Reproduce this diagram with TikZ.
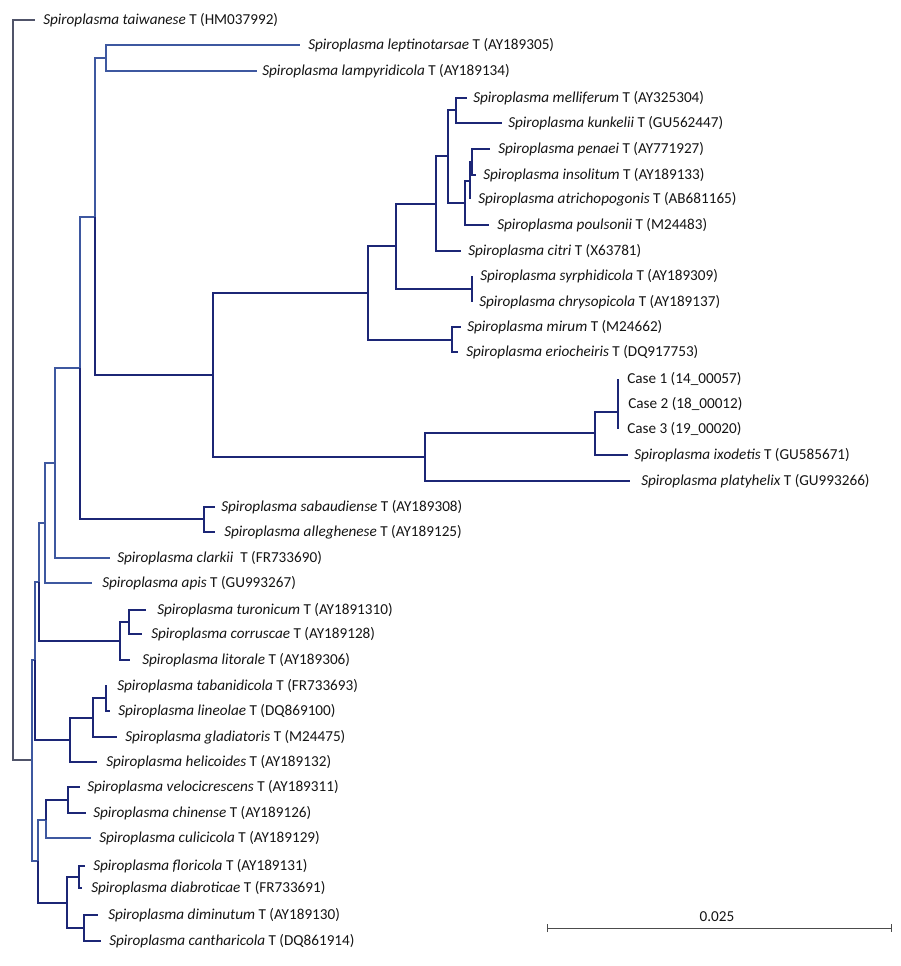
\documentclass[tikz,border=0pt]{standalone}
\usepackage{fontspec}
\setmainfont{Carlito}
\usetikzlibrary{arrows.meta}
\definecolor{navy}{RGB}{28,38,118}
\definecolor{thinblue}{RGB}{62,88,160}
\definecolor{rootgray}{RGB}{80,84,105}
\definecolor{txt}{RGB}{20,20,20}
\newcommand\mkleaf[5]{\coordinate (#1) at (#2,#3); \node[lab] (#1t) at (#4,#3) {#5};}
\newcommand\spname[1]{\textit{Spiroplasma #1}}
\begin{document}
\begin{tikzpicture}[x=0.75pt,y=-0.75pt,
  thk/.style={draw=navy,line width=1.9pt},
  midw/.style={draw=navy,line width=1.2pt},
  thn/.style={draw=thinblue,line width=0.9pt},
  rt/.style={draw=rootgray,line width=0.9pt},
  sbar/.style={draw=black!70,line width=0.7pt,{Bar[width=6pt]}-{Bar[width=6pt]}},
  lab/.style={anchor=west,inner sep=0pt,font=\fontsize{11.4}{13}\selectfont,text=txt}]
\useasboundingbox (0,0) rectangle (900,966);
% internal nodes
\coordinate (root) at (13,390);
\coordinate (nI) at (32,760);
\coordinate (nG) at (35,660);
\coordinate (nF) at (39,582);
\coordinate (nE) at (45,523);
\coordinate (nD) at (55,463);
\coordinate (nC) at (80,368);
\coordinate (nB) at (95,217);
\coordinate (nLept) at (106,58);
\coordinate (nP) at (213,375);
\coordinate (nA1) at (368,293);
\coordinate (nA2) at (396,246);
\coordinate (nA3) at (436,204);
\coordinate (nA4) at (448,156);
\coordinate (nMel) at (456,110);
\coordinate (nA5) at (465,203);
\coordinate (nQ) at (470,181);
\coordinate (nR) at (472,162);
\coordinate (nSyr) at (472,289);
\coordinate (nMir) at (452,340);
\coordinate (nS) at (425,457);
\coordinate (nT) at (595,433);
\coordinate (nU) at (618,412);
\coordinate (nSab) at (204,519);
\coordinate (nTur) at (120,641);
\coordinate (nTur2) at (129,622);
\coordinate (nTab) at (70,740);
\coordinate (nTab2) at (93,718);
\coordinate (nTab3) at (106,698);
\coordinate (nJ) at (38,861);
\coordinate (nK) at (46,820);
\coordinate (nVel) at (68,800);
\coordinate (nL) at (67,903);
\coordinate (nFlo) at (79,877);
\coordinate (nDim) at (84,928);
% leaves
\mkleaf{l1}{35}{20}{43}{\spname{taiwanese} T (HM037992)}
\mkleaf{l2}{300}{45}{308}{\spname{leptinotarsae} T (AY189305)}
\mkleaf{l3}{257}{71}{262}{\spname{lampyridicola} T (AY189134)}
\mkleaf{l4}{467}{98}{473}{\spname{melliferum} T (AY325304)}
\mkleaf{l5}{502}{123}{508}{\spname{kunkelii} T (GU562447)}
\mkleaf{l6}{490}{149}{498}{\spname{penaei} T (AY771927)}
\mkleaf{l7}{476}{175}{483}{\spname{insolitum} T (AY189133)}
\mkleaf{l8}{470}{199}{478}{\spname{atrichopogonis} T (AB681165)}
\mkleaf{l9}{489}{225}{497}{\spname{poulsonii} T (M24483)}
\mkleaf{l10}{461}{251}{468}{\spname{citri} T (X63781)}
\mkleaf{l11}{472}{276}{480}{\spname{syrphidicola} T (AY189309)}
\mkleaf{l12}{472}{302}{479}{\spname{chrysopicola} T (AY189137)}
\mkleaf{l13}{461}{327}{467}{\spname{mirum} T (M24662)}
\mkleaf{l14}{458}{352}{466}{\spname{eriocheiris} T (DQ917753)}
\mkleaf{l15}{618}{379}{627}{Case 1 (14\_00057)}
\mkleaf{l16}{618}{404}{628}{Case 2 (18\_00012)}
\mkleaf{l17}{618}{429}{627}{Case 3 (19\_00020)}
\mkleaf{l18}{628}{455}{634}{\spname{ixodetis} T (GU585671)}
\mkleaf{l19}{630}{481}{641}{\spname{platyhelix} T (GU993266)}
\mkleaf{l20}{215}{507}{221}{\spname{sabaudiense} T (AY189308)}
\mkleaf{l21}{215}{532}{224}{\spname{alleghenese} T (AY189125)}
\mkleaf{l22}{110}{558}{117}{\spname{clarkii}~ T (FR733690)}
\mkleaf{l23}{92}{583}{102}{\spname{apis} T (GU993267)}
\mkleaf{l24}{146}{610}{157}{\spname{turonicum} T (AY1891310)}
\mkleaf{l25}{142}{634}{151}{\spname{corruscae} T (AY189128)}
\mkleaf{l26}{130}{660}{142}{\spname{litorale} T (AY189306)}
\mkleaf{l27}{107}{686}{117}{\spname{tabanidicola} T (FR733693)}
\mkleaf{l28}{110}{711}{118}{\spname{lineolae} T (DQ869100)}
\mkleaf{l29}{117}{737}{125}{\spname{gladiatoris} T (M24475)}
\mkleaf{l30}{97}{762}{106}{\spname{helicoides} T (AY189132)}
\mkleaf{l31}{80}{787}{87}{\spname{velocicrescens} T (AY189311)}
\mkleaf{l32}{86}{813}{93}{\spname{chinense} T (AY189126)}
\mkleaf{l33}{91}{838}{99}{\spname{culicicola} T (AY189129)}
\mkleaf{l34}{85}{866}{93}{\spname{floricola} T (AY189131)}
\mkleaf{l35}{82}{888}{91}{\spname{diabroticae} T (FR733691)}
\mkleaf{l36}{98}{915}{108}{\spname{diminutum} T (AY189130)}
\mkleaf{l37}{101}{941}{109}{\spname{cantharicola} T (DQ861914)}
% branches
\draw[rt] (root) |- (l1);
\draw[rt] (root) |- (nI);
\draw[thn] (nI) |- (nG);
\draw[thn] (nI) |- (nJ);
\draw[thn] (nG) |- (nF);
\draw[thk] (nG) |- (nTab);
\draw[thn] (nF) |- (nE);
\draw[thk] (nF) |- (nTur);
\draw[thn] (nE) |- (nD);
\draw[thn] (nE) |- (l23);
\draw[thn] (nD) |- (nC);
\draw[thn] (nD) |- (l22);
\draw[thn] (nC) |- (nB);
\draw[thk] (nC) |- (nSab);
\draw[thn] (nB) |- (nLept);
\draw[thk] (nB) |- (nP);
\draw[thn] (nLept) |- (l2);
\draw[thn] (nLept) |- (l3);
\draw[thk] (nP) |- (nA1);
\draw[thk] (nP) |- (nS);
\draw[thk] (nA1) |- (nA2);
\draw[thk] (nA1) |- (nMir);
\draw[thk] (nA2) |- (nA3);
\draw[thk] (nA2) |- (nSyr);
\draw[thk] (nA3) |- (nA4);
\draw[thk] (nA3) |- (l10);
\draw[thk] (nA4) |- (nMel);
\draw[thk] (nA4) |- (nA5);
\draw[midw] (nMel) |- (l4);
\draw[thk] (nMel) |- (l5);
\draw[thk] (nA5) |- (nQ);
\draw[thk] (nA5) |- (l9);
\draw[thk] (nQ) |- (nR);
\draw[thk] (nQ) |- (l8);
\draw[midw] (nR) |- (l6);
\draw[thk] (nR) |- (l7);
\draw[thk] (nSyr) |- (l11);
\draw[thk] (nSyr) |- (l12);
\draw[thk] (nMir) |- (l13);
\draw[thk] (nMir) |- (l14);
\draw[thk] (nS) |- (nT);
\draw[thk] (nS) |- (l19);
\draw[thk] (nT) |- (nU);
\draw[thk] (nT) |- (l18);
\draw[thk] (nU) |- (l15);
\draw[thk] (nU) |- (l16);
\draw[thk] (nU) |- (l17);
\draw[thk] (nSab) |- (l20);
\draw[thk] (nSab) |- (l21);
\draw[thk] (nTur) |- (nTur2);
\draw[thk] (nTur) |- (l26);
\draw[thk] (nTur2) |- (l24);
\draw[thk] (nTur2) |- (l25);
\draw[thk] (nTab) |- (nTab2);
\draw[thk] (nTab) |- (l30);
\draw[thk] (nTab2) |- (nTab3);
\draw[thk] (nTab2) |- (l29);
\draw[thk] (nTab3) |- (l27);
\draw[thk] (nTab3) |- (l28);
\draw[thn] (nJ) |- (nK);
\draw[thk] (nJ) |- (nL);
\draw[thk] (nK) |- (nVel);
\draw[thn] (nK) |- (l33);
\draw[thk] (nVel) |- (l31);
\draw[thk] (nVel) |- (l32);
\draw[thk] (nL) |- (nFlo);
\draw[thk] (nL) |- (nDim);
\draw[thk] (nFlo) |- (l34);
\draw[thk] (nFlo) |- (l35);
\draw[thk] (nDim) |- (l36);
\draw[thk] (nDim) |- (l37);
% scale bar
\coordinate (sbL) at (547,928);
\coordinate (sbR) at (892,928);
\draw[sbar] (sbL) -- (sbR);
\node[lab,anchor=center] (sbt) at (717,917) {0.025};
\end{tikzpicture}
\end{document}
